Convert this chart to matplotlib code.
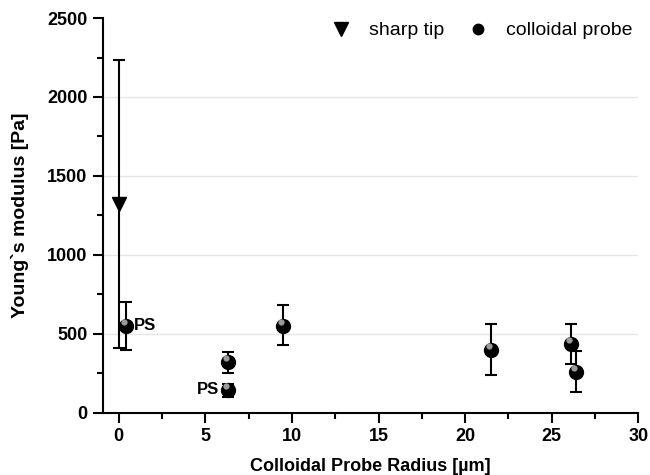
import numpy as np
import matplotlib.pyplot as plt
from matplotlib.ticker import MultipleLocator

plt.rcParams['font.family'] = ['Liberation Sans', 'DejaVu Sans']

# sharp tip
tip_x = [0.0]
tip_y = [1320]
tip_lo = [410]
tip_hi = [2235]

# colloidal probe
probe_x = [0.4, 6.3, 6.3, 9.5, 21.5, 26.1, 26.4]
probe_y = [550, 320, 145, 550, 400, 435, 260]
probe_lo = [400, 250, 100, 430, 240, 310, 130]
probe_hi = [700, 385, 185, 680, 560, 560, 390]

fig = plt.figure(figsize=(6.5, 4.75), dpi=100)
ax = fig.add_axes([0.158, 0.131, 0.824, 0.831])

for y in [500, 1000, 1500, 2000]:
    ax.axhline(y, color='#e6e6e6', lw=1, zorder=0)

ty = np.array(tip_y)
ax.errorbar(tip_x, tip_y, yerr=[ty - np.array(tip_lo), np.array(tip_hi) - ty],
            fmt='none', ecolor='black', elinewidth=1.5, capsize=4, capthick=1.5, zorder=2)
ax.plot(tip_x, tip_y, 'v', color='black', markersize=10, zorder=3, label='sharp tip')

py = np.array(probe_y)
ax.errorbar(probe_x, probe_y, yerr=[py - np.array(probe_lo), np.array(probe_hi) - py],
            fmt='none', ecolor='black', elinewidth=1.5, capsize=4, capthick=1.5, zorder=2)
ax.plot(probe_x, probe_y, 'o', color='black', markersize=10, zorder=3)
# sphere highlight
ax.plot(np.array(probe_x) - 0.12, py + 25, 'o', color='#9a9a9a', markersize=4.5,
        markeredgewidth=0, zorder=4)
ax.plot([], [], 'o', color='black', markersize=7.5, label='colloidal probe')

ax.text(0.85, 550, 'PS', fontsize=12, fontweight='bold', va='center', ha='left')
ax.text(5.8, 145, 'PS', fontsize=12, fontweight='bold', va='center', ha='right')

ax.set_xlim(-0.93, 30)
ax.set_ylim(0, 2500)
ax.xaxis.set_major_locator(MultipleLocator(5))
ax.xaxis.set_minor_locator(MultipleLocator(2.5))
ax.yaxis.set_major_locator(MultipleLocator(500))
ax.yaxis.set_minor_locator(MultipleLocator(250))

for s in ['top', 'right']:
    ax.spines[s].set_visible(False)
for s in ['left', 'bottom']:
    ax.spines[s].set_linewidth(1.5)
ax.tick_params(which='major', direction='out', length=7, width=1.5, labelsize=13, pad=4)
ax.tick_params(which='minor', direction='out', length=4, width=1.5)
for lab in ax.get_xticklabels() + ax.get_yticklabels():
    lab.set_fontweight('bold')

ax.set_xlabel('Colloidal Probe Radius [µm]', fontsize=13, fontweight='bold', labelpad=9)
ax.set_ylabel('Young`s modulus [Pa]', fontsize=14, fontweight='bold', labelpad=13)

ax.legend(loc='upper right', ncol=2, frameon=False, fontsize=14, handletextpad=0.84,
          handlelength=1.2, columnspacing=1.1, borderpad=0, borderaxespad=0,
          bbox_to_anchor=(632 / 650, 0.954), bbox_transform=fig.transFigure)

fig.savefig('out.png', dpi=100)
